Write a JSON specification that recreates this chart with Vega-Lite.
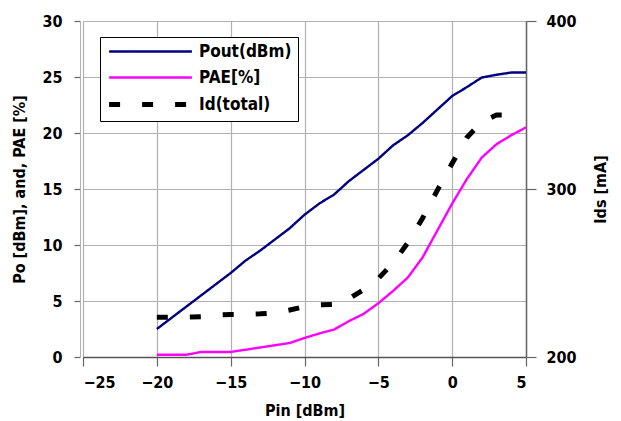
{
  "$schema": "https://vega.github.io/schema/vega-lite/v6.json",
  "width": 443,
  "height": 336,
  "autosize": "none",
  "padding": {"left": 83, "top": 21, "right": 95, "bottom": 64},
  "background": "white",
  "config": {
    "font": "DejaVu Sans Condensed",
    "view": {"stroke": null},
    "axis": {
      "labelFont": "DejaVu Sans Condensed",
      "labelFontWeight": "bold",
      "labelFontSize": 16,
      "labelColor": "black",
      "titleFont": "DejaVu Sans Condensed",
      "titleFontWeight": "bold",
      "titleFontSize": 16,
      "titleColor": "black",
      "gridColor": "#b0b0b0",
      "gridWidth": 1.2,
      "gridOpacity": 1,
      "tickColor": "#666666",
      "tickWidth": 1.2
    },
    "legend": {
      "labelFont": "DejaVu Sans Condensed",
      "labelFontWeight": "bold",
      "labelFontSize": 17,
      "labelColor": "black"
    }
  },
  "data": {
    "values": [
      {"pin": -20, "series": "Pout(dBm)", "value": 2.5},
      {"pin": -19, "series": "Pout(dBm)", "value": 3.5},
      {"pin": -18, "series": "Pout(dBm)", "value": 4.5},
      {"pin": -17, "series": "Pout(dBm)", "value": 5.5},
      {"pin": -16, "series": "Pout(dBm)", "value": 6.5},
      {"pin": -15, "series": "Pout(dBm)", "value": 7.5},
      {"pin": -14, "series": "Pout(dBm)", "value": 8.6},
      {"pin": -13, "series": "Pout(dBm)", "value": 9.5},
      {"pin": -12, "series": "Pout(dBm)", "value": 10.5},
      {"pin": -11, "series": "Pout(dBm)", "value": 11.5},
      {"pin": -10, "series": "Pout(dBm)", "value": 12.7},
      {"pin": -9, "series": "Pout(dBm)", "value": 13.7},
      {"pin": -8, "series": "Pout(dBm)", "value": 14.5},
      {"pin": -7, "series": "Pout(dBm)", "value": 15.7},
      {"pin": -6, "series": "Pout(dBm)", "value": 16.7},
      {"pin": -5, "series": "Pout(dBm)", "value": 17.7},
      {"pin": -4, "series": "Pout(dBm)", "value": 18.9},
      {"pin": -3, "series": "Pout(dBm)", "value": 19.8},
      {"pin": -2, "series": "Pout(dBm)", "value": 20.9},
      {"pin": -1, "series": "Pout(dBm)", "value": 22.1},
      {"pin": 0, "series": "Pout(dBm)", "value": 23.3},
      {"pin": 1, "series": "Pout(dBm)", "value": 24.1},
      {"pin": 2, "series": "Pout(dBm)", "value": 24.95},
      {"pin": 3, "series": "Pout(dBm)", "value": 25.2},
      {"pin": 4, "series": "Pout(dBm)", "value": 25.4},
      {"pin": 5, "series": "Pout(dBm)", "value": 25.4},
      {"pin": -20, "series": "PAE[%]", "value": 0.2},
      {"pin": -19, "series": "PAE[%]", "value": 0.2},
      {"pin": -18, "series": "PAE[%]", "value": 0.2},
      {"pin": -17, "series": "PAE[%]", "value": 0.45},
      {"pin": -16, "series": "PAE[%]", "value": 0.45},
      {"pin": -15, "series": "PAE[%]", "value": 0.45},
      {"pin": -14, "series": "PAE[%]", "value": 0.65},
      {"pin": -13, "series": "PAE[%]", "value": 0.85},
      {"pin": -12, "series": "PAE[%]", "value": 1.05},
      {"pin": -11, "series": "PAE[%]", "value": 1.25},
      {"pin": -10, "series": "PAE[%]", "value": 1.7},
      {"pin": -9, "series": "PAE[%]", "value": 2.1},
      {"pin": -8, "series": "PAE[%]", "value": 2.45},
      {"pin": -7, "series": "PAE[%]", "value": 3.2},
      {"pin": -6, "series": "PAE[%]", "value": 3.85},
      {"pin": -5, "series": "PAE[%]", "value": 4.8},
      {"pin": -4, "series": "PAE[%]", "value": 5.9},
      {"pin": -3, "series": "PAE[%]", "value": 7.1},
      {"pin": -2, "series": "PAE[%]", "value": 8.9},
      {"pin": -1, "series": "PAE[%]", "value": 11.3},
      {"pin": 0, "series": "PAE[%]", "value": 13.7},
      {"pin": 1, "series": "PAE[%]", "value": 15.9},
      {"pin": 2, "series": "PAE[%]", "value": 17.8},
      {"pin": 3, "series": "PAE[%]", "value": 19.0},
      {"pin": 4, "series": "PAE[%]", "value": 19.8},
      {"pin": 5, "series": "PAE[%]", "value": 20.5},
      {"pin": -20, "series": "Id(total)", "value": 223.7},
      {"pin": -19, "series": "Id(total)", "value": 223.7},
      {"pin": -18, "series": "Id(total)", "value": 223.7},
      {"pin": -17, "series": "Id(total)", "value": 224.0},
      {"pin": -16, "series": "Id(total)", "value": 225.0},
      {"pin": -15, "series": "Id(total)", "value": 225.3},
      {"pin": -14, "series": "Id(total)", "value": 225.3},
      {"pin": -13, "series": "Id(total)", "value": 225.7},
      {"pin": -12, "series": "Id(total)", "value": 226.3},
      {"pin": -11, "series": "Id(total)", "value": 228.0},
      {"pin": -10, "series": "Id(total)", "value": 230.0},
      {"pin": -9, "series": "Id(total)", "value": 231.0},
      {"pin": -8, "series": "Id(total)", "value": 231.3},
      {"pin": -7, "series": "Id(total)", "value": 234.7},
      {"pin": -6, "series": "Id(total)", "value": 240.0},
      {"pin": -5, "series": "Id(total)", "value": 246.7},
      {"pin": -4, "series": "Id(total)", "value": 256.0},
      {"pin": -3, "series": "Id(total)", "value": 268.0},
      {"pin": -2, "series": "Id(total)", "value": 282.7},
      {"pin": -1, "series": "Id(total)", "value": 299.3},
      {"pin": 0, "series": "Id(total)", "value": 315.3},
      {"pin": 1, "series": "Id(total)", "value": 330.7},
      {"pin": 2, "series": "Id(total)", "value": 340.0},
      {"pin": 3, "series": "Id(total)", "value": 344.0},
      {"pin": 4, "series": "Id(total)", "value": 344.0}
    ]
  },
  "encoding": {
    "x": {
      "field": "pin",
      "type": "quantitative",
      "title": "Pin [dBm]",
      "scale": {"domain": [-25, 5], "nice": false, "zero": false},
      "axis": {
        "values": [-25, -20, -15, -10, -5, 0, 5],
        "domainColor": "#555555",
        "domainWidth": 1.5,
        "tickSize": 9,
        "labelPadding": 8,
        "titlePadding": 12
      }
    },
    "color": {
      "field": "series",
      "type": "nominal",
      "title": null,
      "scale": {"domain": ["Pout(dBm)", "PAE[%]", "Id(total)"], "range": ["#000080", "#ff00ff", "#000000"]},
      "legend": {
        "orient": "none",
        "legendX": 17,
        "legendY": 16,
        "strokeColor": "black",
        "fillColor": "white",
        "padding": 6,
        "rowPadding": 8,
        "symbolType": "M-4.6,0H4.6",
        "symbolSize": 324,
        "symbolOffset": 36,
        "labelOffset": 40,
        "encode": {"symbols": {"update": {"strokeWidth": {"signal": "datum.value == 'Id(total)' ? 5 : 2.6"}}}}
      }
    },
    "strokeDash": {
      "field": "series",
      "type": "nominal",
      "title": null,
      "scale": {"domain": ["Pout(dBm)", "PAE[%]", "Id(total)"], "range": [[1, 0], [1, 0], [11, 22]]},
      "legend": {
        "orient": "none",
        "legendX": 17,
        "legendY": 16,
        "strokeColor": "black",
        "fillColor": "white",
        "padding": 6,
        "rowPadding": 8,
        "symbolType": "M-4.6,0H4.6",
        "symbolSize": 324,
        "symbolOffset": 36,
        "labelOffset": 40,
        "encode": {"symbols": {"update": {"strokeWidth": {"signal": "datum.value == 'Id(total)' ? 5 : 2.6"}}}}
      }
    }
  },
  "layer": [
    {
      "transform": [{"filter": "datum.series != 'Id(total)'"}],
      "mark": {"type": "line", "strokeWidth": 2.4},
      "encoding": {
        "y": {
          "field": "value",
          "type": "quantitative",
          "title": "Po [dBm], and, PAE [%]",
          "scale": {"domain": [0, 30], "nice": false},
          "axis": {
            "values": [0, 5, 10, 15, 20, 25, 30],
            "domainColor": "#b0b0b0",
            "tickSize": 6,
            "offset": 3,
            "labelPadding": 12,
            "titlePadding": 14
          }
        }
      }
    },
    {
      "transform": [{"filter": "datum.series == 'Id(total)'"}],
      "mark": {"type": "line", "strokeCap": "butt", "strokeWidth": 5},
      "encoding": {
        "y": {
          "field": "value",
          "type": "quantitative",
          "title": "Ids [mA]",
          "scale": {"domain": [200, 400], "nice": false, "zero": false},
          "axis": {
            "orient": "right",
            "values": [200, 300, 400],
            "grid": false,
            "domainColor": "#666666",
            "domainWidth": 1.5,
            "tickSize": 10,
            "labelPadding": 10,
            "titleAngle": -90,
            "titlePadding": 32
          }
        }
      }
    }
  ],
  "resolve": {"scale": {"y": "independent"}}
}
